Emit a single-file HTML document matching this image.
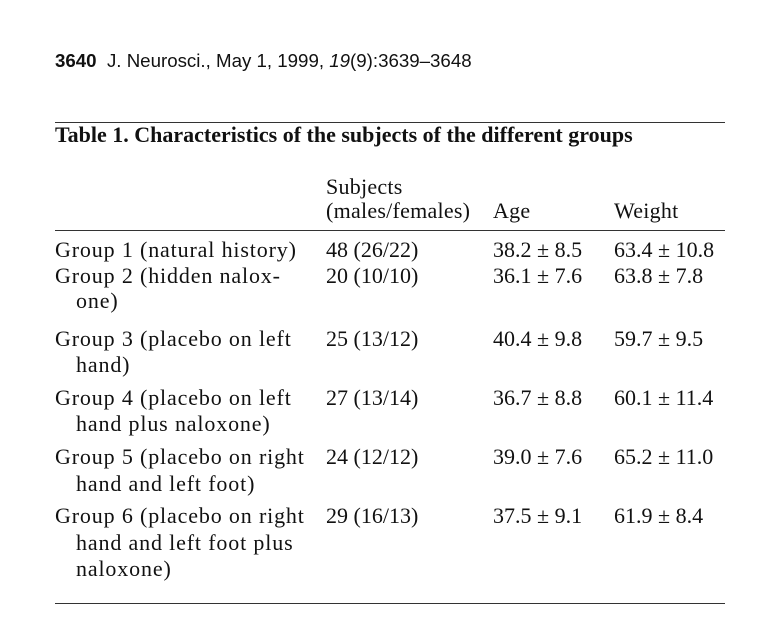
<!DOCTYPE html>
<html><head><style>
body{margin:0;width:772px;height:634px;background:#fff;position:relative;overflow:hidden;color:#111}
.t{position:absolute;font-family:"Liberation Serif",serif;font-size:22px;line-height:24px;white-space:nowrap}
.l{letter-spacing:0.85px}
.h{letter-spacing:0.25px}
.r{position:absolute;left:55px;width:670px;height:1px;background:#333}
</style></head><body>
<div class="t" style="left:55px;top:51px;font-family:'Liberation Sans',sans-serif;font-size:18.7px;line-height:20px"><b>3640</b>&nbsp; J. Neurosci., May 1, 1999, <i>19</i>(9):3639–3648</div>
<div class="r" style="top:122px"></div>
<div class="t" style="left:55px;top:125px;font-weight:bold;font-size:22px;line-height:20px">Table 1. Characteristics of the subjects of the different groups</div>
<div class="t h" style="left:326px;top:175px">Subjects</div>
<div class="t h" style="left:326px;top:199px">(males/females)</div>
<div class="t h" style="left:493px;top:199px">Age</div>
<div class="t h" style="left:614px;top:199px">Weight</div>
<div class="r" style="top:230px"></div>

<div class="t l" style="left:55px;top:238px">Group 1 (natural history)</div>
<div class="t" style="left:326px;top:238px">48 (26/22)</div>
<div class="t" style="left:493px;top:238px">38.2 ± 8.5</div>
<div class="t" style="left:614px;top:238px">63.4 ± 10.8</div>

<div class="t l" style="left:55px;top:264px">Group 2 (hidden nalox-</div>
<div class="t l" style="left:76px;top:289px">one)</div>
<div class="t" style="left:326px;top:264px">20 (10/10)</div>
<div class="t" style="left:493px;top:264px">36.1 ± 7.6</div>
<div class="t" style="left:614px;top:264px">63.8 ± 7.8</div>

<div class="t l" style="left:55px;top:327px">Group 3 (placebo on left</div>
<div class="t l" style="left:76px;top:353px">hand)</div>
<div class="t" style="left:326px;top:327px">25 (13/12)</div>
<div class="t" style="left:493px;top:327px">40.4 ± 9.8</div>
<div class="t" style="left:614px;top:327px">59.7 ± 9.5</div>

<div class="t l" style="left:55px;top:386px">Group 4 (placebo on left</div>
<div class="t l" style="left:76px;top:412px">hand plus naloxone)</div>
<div class="t" style="left:326px;top:386px">27 (13/14)</div>
<div class="t" style="left:493px;top:386px">36.7 ± 8.8</div>
<div class="t" style="left:614px;top:386px">60.1 ± 11.4</div>

<div class="t l" style="left:55px;top:445px">Group 5 (placebo on right</div>
<div class="t l" style="left:76px;top:472px">hand and left foot)</div>
<div class="t" style="left:326px;top:445px">24 (12/12)</div>
<div class="t" style="left:493px;top:445px">39.0 ± 7.6</div>
<div class="t" style="left:614px;top:445px">65.2 ± 11.0</div>

<div class="t l" style="left:55px;top:504px">Group 6 (placebo on right</div>
<div class="t l" style="left:76px;top:531px">hand and left foot plus</div>
<div class="t l" style="left:76px;top:557px">naloxone)</div>
<div class="t" style="left:326px;top:504px">29 (16/13)</div>
<div class="t" style="left:493px;top:504px">37.5 ± 9.1</div>
<div class="t" style="left:614px;top:504px">61.9 ± 8.4</div>

<div class="r" style="top:603px"></div>
</body></html>
